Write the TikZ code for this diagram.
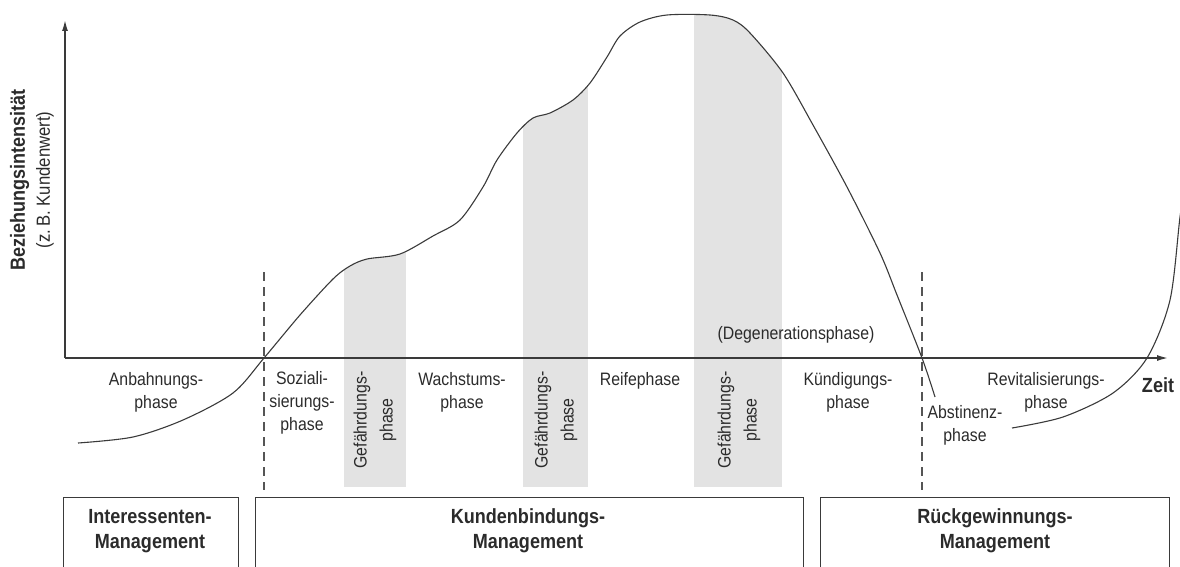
\documentclass[tikz,border=0pt]{standalone}
\usepackage{fontspec}
\setmainfont[FakeStretch=0.88]{Liberation Sans}
\usetikzlibrary{arrows.meta}
\definecolor{ink}{HTML}{2B2B2B}
\definecolor{linecol}{HTML}{3A3A3A}
\definecolor{dashcol}{HTML}{555555}
\definecolor{bandgray}{HTML}{E3E3E3}
\begin{document}
\begin{tikzpicture}[x=1pt,y=-1pt,
  every node/.style={text=ink, inner sep=0pt, align=center},
  lbl/.style={font=\fontsize{18}{23}\selectfont},
  blbl/.style={font=\bfseries\fontsize{20.5}{25}\selectfont},
  rlbl/.style={font=\fontsize{18}{26}\selectfont, rotate=90},
  axis/.style={line width=1.4pt, draw=linecol, -{Latex[length=11pt,width=6pt]}},
  curve/.style={line width=1.1pt, draw=linecol},
  phaseline/.style={line width=1.2pt, draw=dashcol, dash pattern=on 9pt off 6pt},
  mgmtbox/.style={draw=linecol, line width=1.1pt, anchor=north west, minimum height=95pt},
  band/.style={fill=bandgray},
  maincurve/.style={insert path={plot[smooth,tension=0.5] coordinates {
    (78,443) (133,437) (183,420) (233,393) (264,358) (300,315) (333,279)
    (350,266) (367,259) (400,254) (433,236) (460,220) (483,187) (497,160)
    (517,133) (533,118) (550,113) (573,100) (590,83) (607,57) (620,36)
    (640,22) (667,15) (710,15) (733,20) (750,33) (783,73) (813,125)
    (847,187) (880,253) (897,295) (922,358) (935,397)}}}]

\useasboundingbox (0,0) rectangle (1180,567);

% shaded endangerment bands, cut off by the relationship curve
\begin{scope}
  \clip[maincurve] -- (935,600) -- (78,600) -- cycle;
  \fill[band] (344,0) rectangle (406,487);
  \fill[band] (523,0) rectangle (588,487);
  \fill[band] (694,0) rectangle (782,487);
\end{scope}

% axes
\coordinate (O) at (65,358);
\coordinate (ytip) at (65,20);
\coordinate (xtip) at (1168,358);
\draw[axis] (O) -- (ytip);
\draw[axis] (O) -- (xtip);

% phase boundaries
\coordinate (d1top) at (264,272);
\coordinate (d1bot) at (264,490);
\coordinate (d2top) at (922,272);
\coordinate (d2bot) at (922,490);
\draw[phaseline] (d1top) -- (d1bot);
\draw[phaseline] (d2top) -- (d2bot);

% relationship curves
\draw[curve, maincurve];
\draw[curve] plot[smooth,tension=0.5] coordinates {
  (1012,428) (1063,417) (1113,393) (1147,358) (1170,300) (1180,217) (1186,180)};

% axis labels
\node[rotate=90, font=\fontsize{19}{25}\selectfont] (ylab) at (32,180)
  {{\bfseries\fontsize{20.5}{25}\selectfont Beziehungsintensität}\\(z.\,B. Kundenwert)};
\node[blbl] (zeit) at (1158,385) {Zeit};

% phase labels
\node[lbl] (anb) at (156,392) {Anbahnungs-\\phase};
\node[lbl] (soz) at (302,403) {Soziali-\\sierungs-\\phase};
\node[rlbl] (gef1) at (375,420) {Gefährdungs-\\phase};
\node[lbl] (wach) at (462,392) {Wachstums-\\phase};
\node[rlbl] (gef2) at (556,420) {Gefährdungs-\\phase};
\node[lbl] (reife) at (640,381) {Reifephase};
\node[rlbl] (gef3) at (739,420) {Gefährdungs-\\phase};
\node[lbl] (degen) at (796,335) {(Degenerationsphase)};
\node[lbl] (kuend) at (848,392) {Kündigungs-\\phase};
\node[lbl] (abst) at (965,425) {Abstinenz-\\phase};
\node[lbl] (revit) at (1046,392) {Revitalisierungs-\\phase};

% management areas
\node[mgmtbox, minimum width=175pt] (box1) at (63,497) {};
\node[mgmtbox, minimum width=548pt] (box2) at (255,497) {};
\node[mgmtbox, minimum width=349pt] (box3) at (820,497) {};
\node[blbl] (int) at (150,531) {Interessenten-\\Management};
\node[blbl] (kund) at (528,531) {Kundenbindungs-\\Management};
\node[blbl] (rueck) at (995,531) {Rückgewinnungs-\\Management};

\end{tikzpicture}
\end{document}
